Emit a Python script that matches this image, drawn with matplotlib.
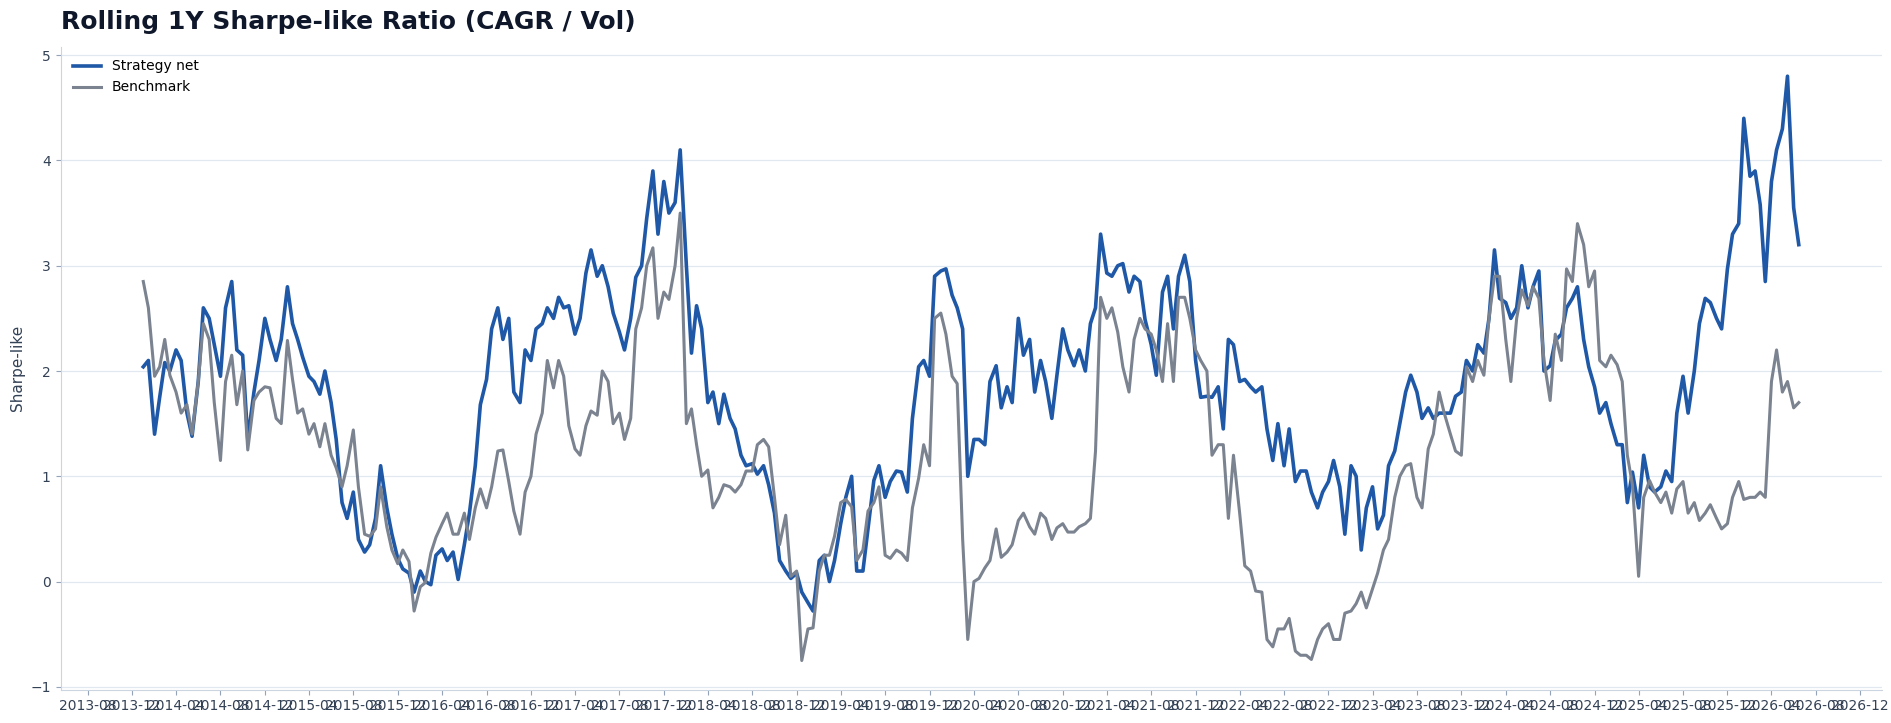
import matplotlib
matplotlib.use("Agg")
from matplotlib import pyplot as plt
import matplotlib.dates as mdates
import pandas as pd

# semi-monthly sample dates (1st and 15th), Jan 2014 .. Jun 2026
dates = pd.date_range("2014-01-01", periods=300, freq="SMS")

strategy_net = [
    2.04, 2.1, 1.4, 1.75, 2.08, 2.0, 2.2, 2.1, 1.6, 1.38,
    1.9, 2.6, 2.5, 2.25, 1.95, 2.6, 2.85, 2.2, 2.15, 1.35,
    1.8, 2.1, 2.5, 2.3, 2.1, 2.3, 2.8, 2.45, 2.3, 2.13,
    1.95, 1.9, 1.78, 2.0, 1.7, 1.35, 0.75, 0.6, 0.85, 0.4,
    0.28, 0.35, 0.6, 1.1, 0.7, 0.45, 0.22, 0.12, 0.08, -0.1,
    0.1, 0.0, -0.03, 0.25, 0.31, 0.2, 0.28, 0.02, 0.35, 0.65,
    1.1, 1.68, 1.92, 2.4, 2.6, 2.3, 2.5, 1.8, 1.7, 2.2,
    2.1, 2.4, 2.45, 2.6, 2.5, 2.7, 2.6, 2.62, 2.35, 2.5,
    2.93, 3.15, 2.9, 3.0, 2.8, 2.55, 2.37, 2.2, 2.5, 2.89,
    3.0, 3.45, 3.9, 3.3, 3.8, 3.5, 3.6, 4.1, 3.0, 2.17,
    2.62, 2.4, 1.7, 1.8, 1.5, 1.78, 1.55, 1.45, 1.2, 1.1,
    1.12, 1.02, 1.1, 0.92, 0.65, 0.2, 0.1, 0.03, 0.08, -0.1,
    -0.2, -0.28, 0.2, 0.25, 0.0, 0.2, 0.55, 0.8, 1.0, 0.1,
    0.1, 0.5, 0.96, 1.1, 0.8, 0.95, 1.05, 1.04, 0.85, 1.55,
    2.04, 2.1, 1.95, 2.9, 2.95, 2.97, 2.72, 2.6, 2.4, 1.0,
    1.35, 1.35, 1.3, 1.9, 2.05, 1.65, 1.85, 1.7, 2.5, 2.15,
    2.3, 1.8, 2.1, 1.9, 1.55, 1.96, 2.4, 2.2, 2.05, 2.2,
    2.0, 2.45, 2.6, 3.3, 2.93, 2.9, 3.0, 3.02, 2.75, 2.9,
    2.85, 2.49, 2.25, 1.96, 2.75, 2.9, 2.4, 2.9, 3.1, 2.85,
    2.1, 1.75, 1.76, 1.75, 1.85, 1.45, 2.3, 2.25, 1.9, 1.92,
    1.85, 1.8, 1.85, 1.45, 1.15, 1.5, 1.1, 1.45, 0.95, 1.05,
    1.05, 0.85, 0.7, 0.85, 0.95, 1.15, 0.9, 0.45, 1.1, 1.0,
    0.3, 0.7, 0.9, 0.5, 0.63, 1.1, 1.24, 1.5, 1.8, 1.96,
    1.8, 1.55, 1.65, 1.55, 1.6, 1.6, 1.6, 1.76, 1.8, 2.1,
    2.0, 2.25, 2.17, 2.5, 3.15, 2.69, 2.65, 2.5, 2.6, 3.0,
    2.6, 2.8, 2.95, 2.0, 2.05, 2.29, 2.35, 2.6, 2.69, 2.8,
    2.3, 2.04, 1.85, 1.6, 1.7, 1.5, 1.3, 1.3, 0.75, 1.04,
    0.7, 1.2, 0.9, 0.85, 0.9, 1.05, 0.95, 1.6, 1.95, 1.6,
    2.0, 2.45, 2.69, 2.65, 2.5, 2.4, 2.97, 3.3, 3.4, 4.4,
    3.85, 3.9, 3.58, 2.85, 3.8, 4.1, 4.3, 4.8, 3.55, 3.2,
]

benchmark = [
    2.85, 2.6, 1.95, 2.04, 2.3, 1.96, 1.8, 1.6, 1.68, 1.4,
    1.9, 2.45, 2.3, 1.7, 1.15, 1.9, 2.15, 1.68, 2.0, 1.25,
    1.72, 1.8, 1.85, 1.84, 1.55, 1.5, 2.29, 1.92, 1.6, 1.64,
    1.4, 1.5, 1.28, 1.5, 1.2, 1.08, 0.9, 1.1, 1.44, 0.9,
    0.45, 0.43, 0.5, 0.9, 0.52, 0.3, 0.17, 0.3, 0.19, -0.28,
    -0.05, -0.01, 0.27, 0.42, 0.55, 0.65, 0.45, 0.45, 0.65, 0.4,
    0.7, 0.88, 0.7, 0.9, 1.24, 1.25, 0.95, 0.67, 0.45, 0.85,
    1.0, 1.4, 1.6, 2.1, 1.84, 2.1, 1.95, 1.48, 1.26, 1.2,
    1.48, 1.62, 1.58, 2.0, 1.9, 1.5, 1.6, 1.35, 1.55, 2.4,
    2.6, 3.0, 3.17, 2.5, 2.75, 2.68, 3.0, 3.5, 1.5, 1.64,
    1.3, 1.0, 1.06, 0.7, 0.8, 0.92, 0.9, 0.85, 0.92, 1.05,
    1.05, 1.3, 1.35, 1.28, 0.8, 0.35, 0.63, 0.05, 0.1, -0.75,
    -0.45, -0.44, 0.1, 0.25, 0.25, 0.43, 0.75, 0.78, 0.71, 0.2,
    0.3, 0.67, 0.75, 0.9, 0.25, 0.22, 0.3, 0.27, 0.2, 0.7,
    0.98, 1.3, 1.1, 2.5, 2.55, 2.35, 1.95, 1.88, 0.4, -0.55,
    0.0, 0.03, 0.13, 0.2, 0.5, 0.23, 0.28, 0.35, 0.58, 0.65,
    0.52, 0.45, 0.65, 0.6, 0.4, 0.51, 0.55, 0.47, 0.47, 0.52,
    0.55, 0.6, 1.24, 2.7, 2.5, 2.6, 2.37, 2.04, 1.8, 2.3,
    2.5, 2.4, 2.35, 2.2, 1.9, 2.45, 1.9, 2.7, 2.7, 2.5,
    2.2, 2.1, 2.0, 1.2, 1.3, 1.3, 0.6, 1.2, 0.65, 0.15,
    0.1, -0.09, -0.1, -0.55, -0.62, -0.45, -0.45, -0.35, -0.66, -0.7,
    -0.7, -0.74, -0.55, -0.45, -0.4, -0.55, -0.55, -0.3, -0.28, -0.21,
    -0.1, -0.25, -0.07, 0.08, 0.3, 0.4, 0.8, 1.0, 1.1, 1.12,
    0.8, 0.7, 1.26, 1.4, 1.8, 1.6, 1.4, 1.24, 1.2, 2.04,
    1.9, 2.1, 1.96, 2.5, 2.9, 2.9, 2.3, 1.9, 2.5, 2.77,
    2.62, 2.8, 2.69, 2.1, 1.72, 2.35, 2.1, 2.97, 2.85, 3.4,
    3.2, 2.8, 2.95, 2.1, 2.04, 2.15, 2.06, 1.9, 1.2, 0.92,
    0.05, 0.8, 0.96, 0.85, 0.75, 0.85, 0.65, 0.88, 0.95, 0.65,
    0.75, 0.58, 0.65, 0.73, 0.6, 0.5, 0.55, 0.8, 0.95, 0.78,
    0.8, 0.8, 0.85, 0.8, 1.9, 2.2, 1.8, 1.9, 1.65, 1.7,
]

fig, ax = plt.subplots(figsize=(18.91, 7.23), dpi=100)
fig.subplots_adjust(left=0.032, right=0.995, top=0.935, bottom=0.046)

ax.plot(dates, strategy_net, color="#1f58a6", linewidth=2.6, label="Strategy net")
ax.plot(dates, benchmark, color="#7b8390", linewidth=2.2, label="Benchmark")

ax.set_title("Rolling 1Y Sharpe-like Ratio (CAGR / Vol)", loc="left",
             fontsize=18, fontweight="bold", color="#0f172a", pad=13)
ax.set_ylabel("Sharpe-like", fontsize=11, color="#334155")

ax.xaxis.set_major_locator(mdates.MonthLocator(bymonth=(4, 8, 12)))
ax.xaxis.set_major_formatter(mdates.DateFormatter("%Y-%m"))

ax.grid(axis="y", color="#e2e8f0", linewidth=0.9)
ax.grid(axis="x", visible=False)
ax.set_axisbelow(True)
for side in ["top", "right"]:
    ax.spines[side].set_visible(False)
for side in ["left", "bottom"]:
    ax.spines[side].set_color("#cbd5e1")
ax.tick_params(colors="#94a3b8", labelcolor="#334155", labelsize=10)

ax.legend(loc="upper left", frameon=False, fontsize=10)

plt.savefig("out.png", dpi=100)
